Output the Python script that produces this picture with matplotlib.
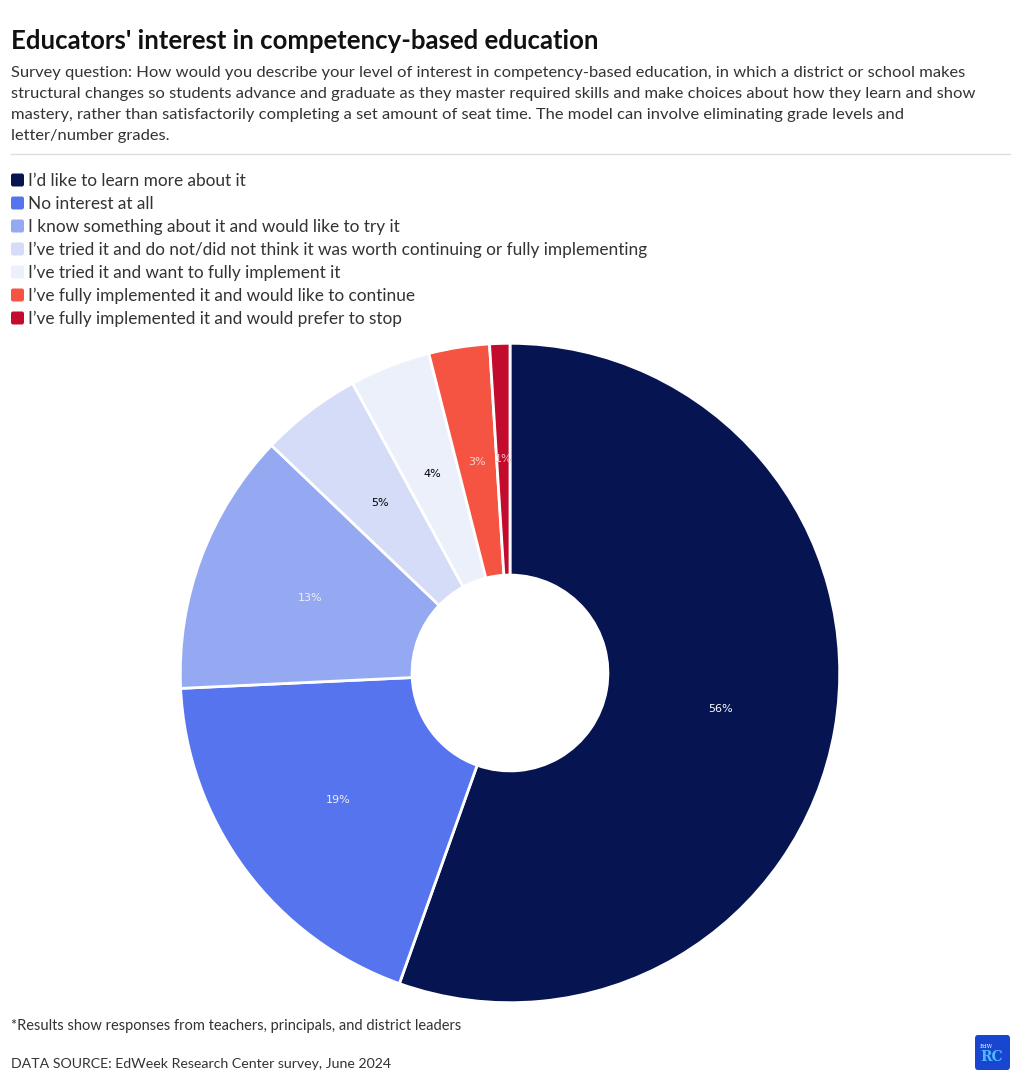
import matplotlib
matplotlib.use("Agg")
import matplotlib.pyplot as plt
from matplotlib.patches import FancyBboxPatch
from matplotlib.lines import Line2D

#-----------------data----------------
categories = [
    "I\u2019d like to learn more about it",
    "No interest at all",
    "I know something about it and would like to try it",
    "I\u2019ve tried it and do not/did not think it was worth continuing or fully implementing",
    "I\u2019ve tried it and want to fully implement it",
    "I\u2019ve fully implemented it and would like to continue",
    "I\u2019ve fully implemented it and would prefer to stop",
]
values = [56, 19, 13, 5, 4, 3, 1]
colors = ["#061452", "#5574ee", "#95a9f2", "#d5dcf7", "#ebf0fa", "#f55442", "#c30b2d"]
label_colors = ["white", "#f0f0f0", "#f0f0f0", "black", "black", "#f6d8d4", "#f0c0c8"]
#--------------------------------------

W, H = 1020, 1084
fig = plt.figure(figsize=(W / 100, H / 100), dpi=100)
fig.patch.set_facecolor("white")
FONT = "Lato"


def px(x, y):
    # pixel coords (top-left origin) -> figure fraction
    return x / W, 1 - y / H


fig.text(*px(11, 41), "Educators' interest in competency-based education",
         fontsize=18.5, fontweight="bold", family=FONT, va="center", color="#111111")

subtitle = ("Survey question: How would you describe your level of interest in competency-based education, in which a district or school makes\n"
            "structural changes so students advance and graduate as they master required skills and make choices about how they learn and show\n"
            "mastery, rather than satisfactorily completing a set amount of seat time. The model can involve eliminating grade levels and\n"
            "letter/number grades.")
fig.text(*px(11, 66), subtitle, fontsize=11.85, family=FONT, va="top", color="#333333",
         linespacing=1.63)

fig.add_artist(Line2D([11 / W, 1010 / W], [1 - 154 / H] * 2, color="#dddddd", lw=1))

# legend
for i, (cat, c) in enumerate(zip(categories, colors)):
    y = 180 + 23 * i
    fig.add_artist(FancyBboxPatch((11 / W, 1 - (y + 6.5) / H), 13 / W, 13 / H,
                                  boxstyle="round,pad=0,rounding_size=0.002",
                                  facecolor=c, edgecolor="none", transform=fig.transFigure))
    fig.text(*px(28, y + 1), cat, fontsize=12.4, family=FONT, va="center", color="#333333")

# donut
cx, cy, r = 510, 673, 333
ax = fig.add_axes([(cx - r) / W, 1 - (cy + r) / H, 2 * r / W, 2 * r / H])
ring = 1 - 98 / 330
wedges, _, autotexts = ax.pie(values, colors=colors, startangle=90, counterclock=False,
                              radius=1, autopct=lambda p: "", pctdistance=1 - ring / 2,
                              wedgeprops=dict(width=ring, edgecolor="white", linewidth=2))
for t, v, lc in zip(autotexts, values, label_colors):
    t.set_text(f"{v}%")
    t.set_color(lc)
    t.set_fontsize(8)
    t.set_family("DejaVu Sans")
ax.set_xlim(-1.01, 1.01)
ax.set_ylim(-1.01, 1.01)
ax.set_aspect("equal")
ax.axis("off")

# footer
fig.text(*px(11, 1026), "*Results show responses from teachers, principals, and district leaders",
         fontsize=10.5, family=FONT, va="center", color="#333333")
fig.text(*px(11, 1064), "DATA SOURCE: EdWeek Research Center survey, June 2024",
         fontsize=10.2, family=FONT, va="center", color="#333333")

# logo
fig.add_artist(FancyBboxPatch((975 / W, 1 - 1070 / H), 35 / W, 35 / H,
                              boxstyle="round,pad=0,rounding_size=0.003",
                              facecolor="#1846d0", edgecolor="none", transform=fig.transFigure))
fig.text(*px(980, 1046), "EdW", fontsize=4, family="DejaVu Serif", color="white", va="center")
fig.text(*px(980, 1057), "RC", fontsize=10, family="DejaVu Serif", color="#4fb8ff", va="center",
         fontweight="bold")

fig.savefig("out.png", dpi=100)
